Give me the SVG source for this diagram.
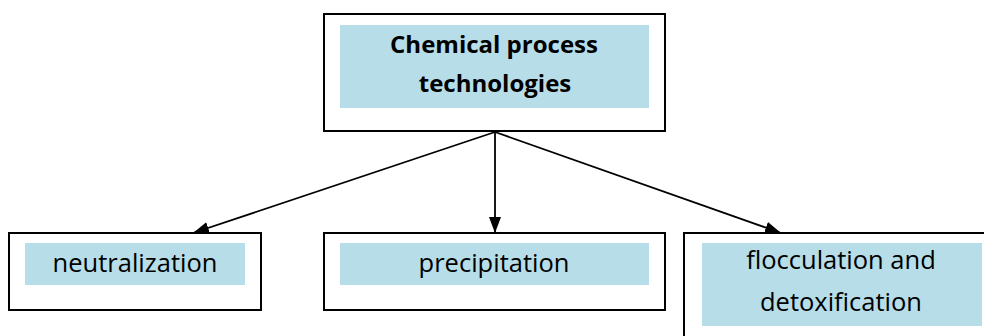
<svg xmlns="http://www.w3.org/2000/svg" width="984" height="336" viewBox="0 0 984 336">
<style>
.box{fill:#ffffff;stroke:#000000;stroke-width:2}
.fill{fill:#b7dde8}
.t{font-family:"Open Sans","Liberation Sans",sans-serif;font-size:25.5px;fill:#000000;text-anchor:middle}
.b{font-weight:bold;font-size:24px}
.c{stroke:#000000;stroke-width:1.8;fill:none}
</style>
<defs>
<marker id="ah" markerWidth="16" markerHeight="12" refX="16" refY="6" orient="auto" markerUnits="userSpaceOnUse">
<path d="M0,0 L16,6 L0,12 Z" fill="#000000"/>
</marker>
</defs>
<rect width="984" height="336" fill="#ffffff"/>
<g id="connectors">
<line class="c" x1="495" y1="132" x2="193" y2="233" marker-end="url(#ah)"/>
<line class="c" x1="495" y1="132" x2="495" y2="233" marker-end="url(#ah)"/>
<line class="c" x1="495" y1="132" x2="781" y2="233" marker-end="url(#ah)"/>
</g>
<g id="top">
<rect class="box" x="324" y="14" width="341" height="117"/>
<rect class="fill" x="340" y="25" width="309" height="83"/>
<text class="t b" x="494" y="53">Chemical process</text>
<text class="t b" x="495" y="92">technologies</text>
</g>
<g id="neutralization">
<rect class="box" x="9" y="233" width="252" height="77"/>
<rect class="fill" x="25" y="243" width="220" height="42"/>
<text class="t" x="135" y="272">neutralization</text>
</g>
<g id="precipitation">
<rect class="box" x="324" y="233" width="341" height="77"/>
<rect class="fill" x="340" y="243" width="309" height="42"/>
<text class="t" x="494" y="272">precipitation</text>
</g>
<g id="flocculation">
<rect class="box" x="684" y="233" width="310" height="120"/>
<rect class="fill" x="702" y="243" width="280" height="83"/>
<text class="t" x="841" y="269">flocculation and</text>
<text class="t" x="841" y="311">detoxification</text>
</g>
</svg>
